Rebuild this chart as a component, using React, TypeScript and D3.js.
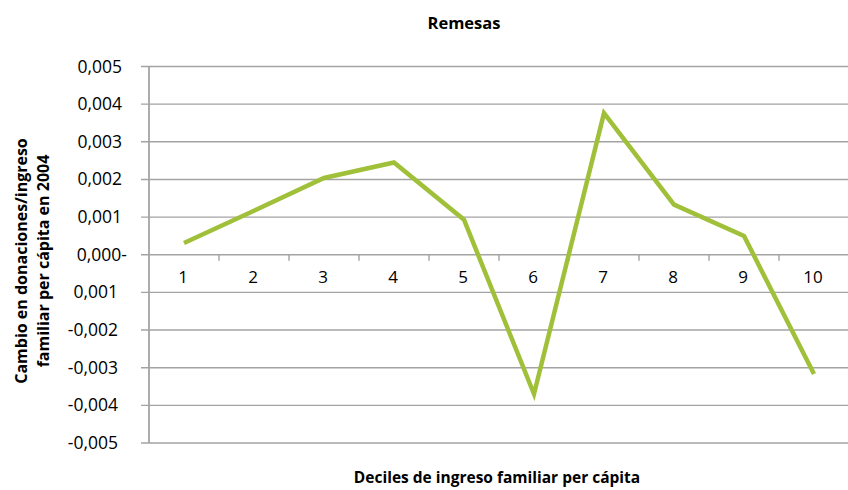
import React from "react";
import * as d3 from "d3";

const categories = ["1", "2", "3", "4", "5", "6", "7", "8", "9", "10"];
const values = [0.00031, 0.00117, 0.00204, 0.00245, 0.00093, -0.0037, 0.00376, 0.00133, 0.0005, -0.00317];
const yTickValues = [0.005, 0.004, 0.003, 0.002, 0.001, 0, -0.001, -0.002, -0.003, -0.004, -0.005];
const yTickLabels = ["0,005", "0,004", "0,003", "0,002", "0,001", "0,000-", "0,001", "-0,002", "-0,003", "-0,004", "-0,005"];
const title = "Remesas";
const xTitle = "Deciles de ingreso familiar per cápita";
const yTitleLines = ["Cambio en donaciones/ingreso", "familiar per cápita en 2004"];

const W = 848;
const H = 490;
const plotLeft = 149;
const plotRight = 849;
const plotTop = 66.5;
const plotBottom = 443;
const font = "'Open Sans', sans-serif";
const gridColor = "#a3a3a3";
const lineColor = "#a0c03a";

export default function App() {
  const x = d3.scaleBand<string>().domain(categories).range([plotLeft, plotRight]).padding(0);
  const y = d3.scaleLinear().domain([-0.005, 0.005]).range([plotBottom, plotTop]);
  const line = d3
    .line<number>()
    .x((_, i) => (x(categories[i]) as number) + x.bandwidth() / 2)
    .y((d) => y(d));
  const y0 = y(0);

  return (
    <svg width={W} height={H} style={{ position: "absolute", left: 0, top: 0, background: "#fff" }}>
      <rect x={0} y={0} width={W} height={H} fill="#fff" />
      <text x={464} y={29} textAnchor="middle" fontFamily={font} fontWeight="bold" fontSize={16.5} fill="#000">
        {title}
      </text>
      {yTickValues.map((v, i) => (
        <g key={"g" + i}>
          <line x1={141} x2={W} y1={y(v)} y2={y(v)} stroke={gridColor} strokeWidth={1.4} />
          <text
            x={v > 0 ? 122 : v === 0 ? 127 : 118}
            y={y(v) + 6}
            textAnchor="end"
            fontFamily={font}
            fontSize={17.5}
            fill="#000"
          >
            {yTickLabels[i]}
          </text>
        </g>
      ))}
      <line x1={plotLeft} x2={plotLeft} y1={plotTop} y2={plotBottom} stroke={gridColor} strokeWidth={1.8} />
      {categories.slice(1).map((c) => (
        <line key={"t" + c} x1={x(c)} x2={x(c)} y1={y0} y2={y0 + 6} stroke={gridColor} strokeWidth={1.4} />
      ))}
      {categories.map((c) => (
        <text
          key={"c" + c}
          x={(x(c) as number) + x.bandwidth() / 2 - 1}
          y={283}
          textAnchor="middle"
          fontFamily={font}
          fontSize={17}
          fill="#000"
        >
          {c}
        </text>
      ))}
      <path d={line(values) || ""} fill="none" stroke={lineColor} strokeWidth={4.5} strokeLinejoin="miter" />
      <text x={497} y={483} textAnchor="middle" fontFamily={font} fontWeight="bold" fontSize={15.5} fill="#000">
        {xTitle}
      </text>
      {yTitleLines.map((t, i) => (
        <text
          key={"yt" + i}
          transform={`translate(${27 + i * 22},261) rotate(-90)`}
          textAnchor="middle"
          fontFamily={font}
          fontWeight="bold"
          fontSize={16}
          fill="#000"
        >
          {t}
        </text>
      ))}
    </svg>
  );
}
